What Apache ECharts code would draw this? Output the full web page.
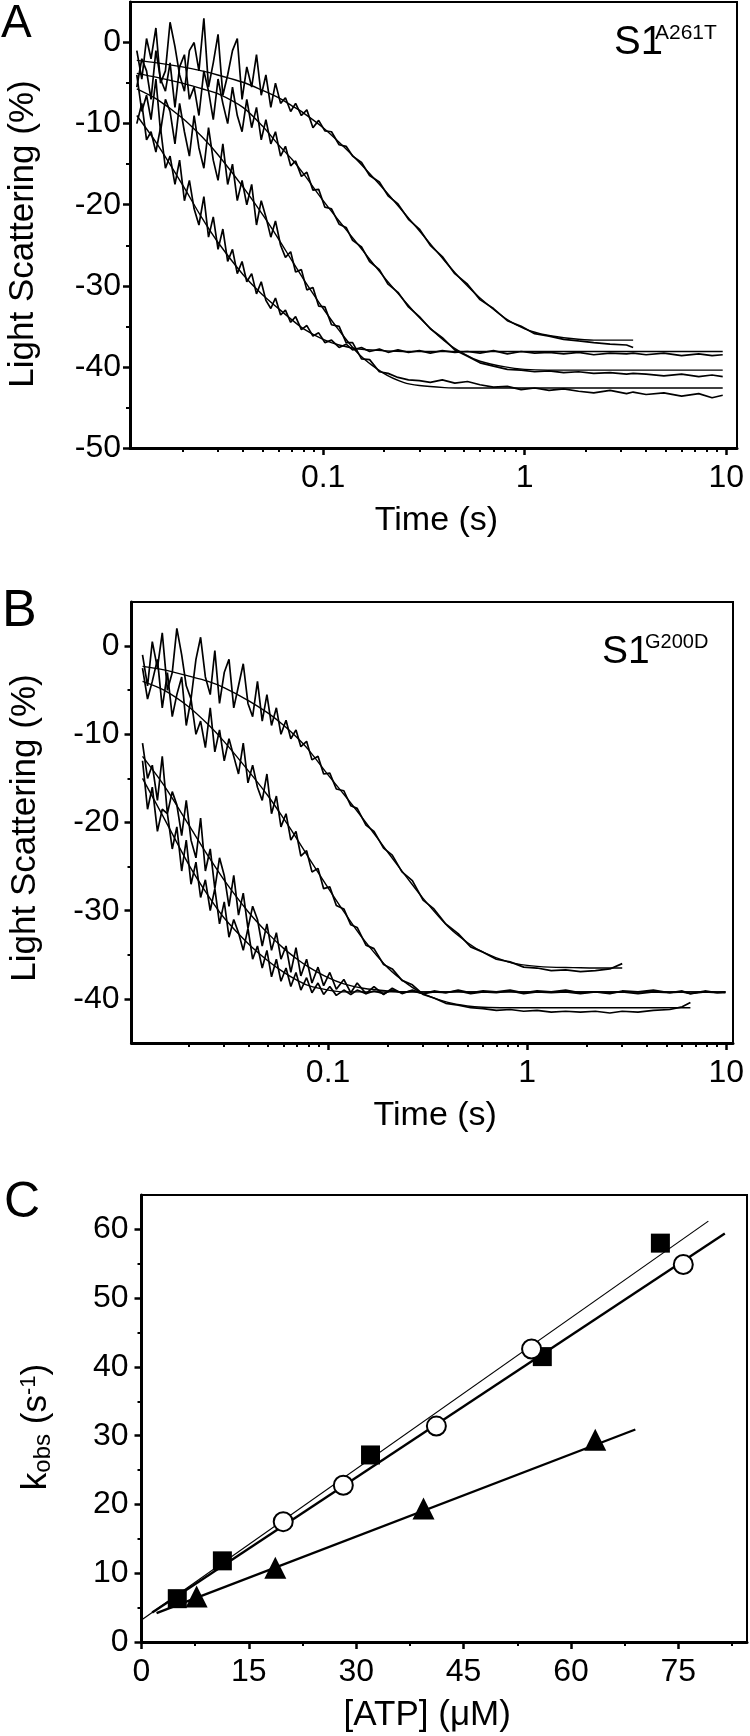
<!DOCTYPE html>
<html><head><meta charset="utf-8">
<script src="https://cdn.jsdelivr.net/npm/echarts@6/dist/echarts.min.js"></script>
<style>html,body{margin:0;padding:0;background:#fff}#c{width:750px;height:1736px}</style>
</head><body><div id="c"></div>
<script>
// ---------- Panel A (S1 A261T) ----------
const aTime = [0.0119,0.0126,0.0133,0.014,0.0148,0.0156,0.0165,0.0174,0.0184,0.0194,
 0.0205,0.0217,0.0229,0.0242,0.0256,0.027,0.0285,0.0301,0.0318,0.0336,
 0.0355,0.0375,0.0396,0.0418,0.0442,0.0467,0.0493,0.052,0.055,0.058,
 0.0615,0.065,0.069,0.073,0.078,0.083,0.089,0.095,0.102,0.11,
 0.12,0.13,0.14,0.155,0.17,0.19,0.21,0.235,0.265,0.3,
 0.34,0.39,0.45,0.52,0.6,0.7,0.82,0.96,1.12,1.32,
 1.56,1.85,2.2,2.65,3.2,3.45,4.0,4.9,6.0,7.3,
 8.5,9.6];
const aData1 = [-1.0,-4.5,0.5,-2.0,1.8,-5.0,-3.5,2.5,-0.5,-4.0,
 -6.0,-1.0,0.0,-3.5,3.0,-5.5,-2.5,1.0,-6.5,-4.0,
 -1.0,0.5,-7.0,-3.0,-5.5,-1.5,-6.5,-4.0,-8.0,-5.0,
 -7.5,-6.8,-8.5,-7.5,-9.0,-8.3,-10.5,-9.6,-10.9,-11.0,
 -12.6,-12.8,-14.0,-14.8,-16.4,-17.2,-18.9,-19.9,-21.8,-23.0,
 -25.0,-26.4,-28.5,-29.8,-31.7,-32.8,-34.3,-35.0,-35.9,-36.2,
 -36.6,-36.8,-37.0,-37.2,-37.3,-37.6];
const aData2 = [-5.5,-2.0,-3.5,-7.0,-1.0,-4.5,-6.0,-2.5,-8.0,-3.0,
 -1.5,-7.0,-5.5,-9.0,-3.5,-6.0,-9.5,-4.5,-7.5,-10.0,
 -5.5,-9.0,-11.0,-7.0,-10.5,-8.0,-12.0,-9.5,-12.5,-11.0,
 -14.0,-12.8,-15.2,-14.6,-16.5,-16.0,-18.2,-18.1,-20.3,-20.5,
 -22.4,-22.8,-24.4,-25.2,-27.0,-28.0,-29.8,-30.8,-32.6,-33.8,
 -35.3,-36.4,-37.9,-38.7,-39.5,-39.9,-40.3,-40.4,-40.6,-40.5,
 -40.7,-40.6,-40.8,-40.7,-40.9,-40.8,-40.9,-41.1,-40.9,-41.2,
 -41.0,-41.2];
const aData3 = [-4.0,-8.5,-6.5,-9.5,-4.5,-11.0,-7.0,-8.5,-12.5,-7.5,
 -11.0,-14.0,-9.0,-13.0,-15.5,-10.5,-14.5,-17.0,-12.5,-17.5,
 -15.0,-19.5,-17.0,-20.0,-17.5,-22.5,-19.5,-21.5,-24.0,-22.0,
 -25.0,-26.5,-25.8,-28.3,-28.0,-30.5,-30.2,-32.5,-32.6,-34.8,
 -35.0,-37.0,-37.0,-39.0,-39.1,-40.6,-40.8,-41.3,-41.6,-41.7,
 -41.9,-41.6,-42.0,-41.8,-42.2,-42.5,-42.4,-42.8,-42.6,-42.9,
 -42.7,-43.0,-43.2,-42.9,-43.3,-43.1,-43.4,-43.2,-43.6,-43.3,
 -43.8,-43.5];
const aData4 = [-10.0,-7.5,-12.0,-11.0,-13.5,-10.5,-15.5,-14.0,-17.5,-14.5,
 -19.5,-17.0,-20.5,-22.5,-19.0,-24.0,-21.5,-25.5,-23.0,-27.0,
 -25.5,-28.5,-27.0,-29.5,-28.5,-31.0,-29.5,-31.8,-32.8,-31.5,
 -33.6,-33.0,-34.5,-33.8,-35.4,-34.9,-36.2,-35.8,-37.0,-36.7,
 -37.6,-37.2,-37.9,-37.6,-38.1,-37.8,-38.2,-37.9,-38.2,-38.0,
 -38.3,-38.0,-38.2,-38.1,-38.3,-38.0,-38.4,-38.1,-38.3,-38.2,
 -38.4,-38.2,-38.5,-38.3,-38.4,-38.3,-38.5,-38.3,-38.6,-38.4,
 -38.6,-38.5];
const aFitTime = [0.0119,0.015,0.02,0.025,0.03,0.04,0.05,0.06,0.07,0.08,0.1,0.12,0.15,0.2,0.25,0.3,0.4,0.5,0.6,0.8,1.0,1.3,1.7,2.2,3.0,3.45,4.5,6.0,8.0,9.6];
const aFit1 = [-2.2,-2.5,-3.0,-3.5,-4.0,-4.9,-5.9,-6.8,-7.8,-8.7,-10.5,-12.3,-14.7,-18.1,-20.9,-23.2,-26.9,-29.6,-31.5,-34.0,-35.3,-36.1,-36.5,-36.7,-36.7,-36.7];
const aFit2 = [-3.8,-4.3,-5.0,-5.7,-6.3,-8.0,-10.3,-12.6,-14.4,-16.2,-19.5,-22.0,-25.0,-28.9,-31.7,-33.9,-36.8,-38.4,-39.3,-40.0,-40.3,-40.4,-40.4,-40.4,-40.4,-40.4,-40.4,-40.4,-40.4,-40.4];
const aFit3 = [-5.7,-7.0,-9.3,-11.6,-13.8,-17.8,-21.2,-24.2,-26.9,-29.2,-32.8,-35.5,-38.4,-40.8,-41.9,-42.3,-42.55,-42.6,-42.6,-42.6,-42.6,-42.6,-42.6,-42.6,-42.6,-42.6,-42.6,-42.6,-42.6,-42.6];
const aFit4 = [-9.0,-12.5,-17.5,-21.6,-24.6,-28.6,-31.1,-32.8,-34.2,-35.3,-36.6,-37.3,-37.8,-38.0,-38.1,-38.1,-38.1,-38.1,-38.1,-38.1,-38.1,-38.1,-38.1,-38.1,-38.1,-38.1,-38.1,-38.1,-38.1,-38.1];
const aYTicks = [-50,-40,-30,-20,-10,0];
const aYMinor = [-45,-35,-25,-15,-5];

// ---------- Panel B (S1 G200D) ----------
const bTime = [0.0117,0.0124,0.0131,0.0139,0.0147,0.0156,0.0165,0.0174,0.0184,0.0194,
 0.0205,0.0217,0.0229,0.0242,0.0256,0.027,0.0285,0.0301,0.0318,0.0336,
 0.0355,0.0375,0.0396,0.0418,0.0442,0.0467,0.0493,0.052,0.055,0.058,
 0.0615,0.065,0.069,0.073,0.078,0.083,0.089,0.095,0.102,0.11,
 0.12,0.13,0.14,0.155,0.17,0.19,0.21,0.235,0.265,0.3,
 0.34,0.39,0.45,0.52,0.6,0.7,0.82,0.96,1.12,1.32,
 1.56,1.85,2.2,2.6,3.0,3.6,4.3,5.2,6.0,6.6,
 7.8,9.0,9.9];
const bData1 = [-1.0,-4.5,0.5,-2.5,1.5,-5.0,-3.0,2.0,-1.0,-4.5,
 -6.0,-1.5,1.0,-3.5,-5.5,-0.5,-6.5,-3.0,-1.5,-7.0,
 -4.5,-2.0,-6.5,-8.0,-4.0,-8.5,-5.5,-9.0,-7.0,-10.0,
 -8.4,-10.5,-9.5,-11.4,-10.8,-12.9,-12.5,-14.5,-14.4,-16.2,
 -16.4,-18.1,-18.4,-20.3,-21.0,-22.9,-23.7,-25.6,-26.6,-28.8,
 -29.8,-31.5,-32.6,-34.1,-34.7,-35.5,-35.8,-36.4,-36.5,-36.8,
 -36.7,-36.9,-36.8,-36.6,-36.0];
const bData2 = [-2.5,-6.0,-4.0,-1.5,-7.0,-3.0,-8.0,-5.5,-3.5,-9.0,
 -6.0,-10.0,-8.5,-11.5,-7.0,-12.0,-9.5,-13.0,-10.5,-12.5,
 -14.5,-11.0,-15.5,-13.5,-16.0,-17.5,-14.5,-19.0,-17.0,-20.5,
 -19.0,-22.0,-21.0,-23.8,-23.2,-25.6,-25.2,-27.5,-27.3,-29.4,
 -29.8,-31.6,-31.9,-33.9,-34.3,-36.1,-36.6,-37.9,-38.4,-39.5,
 -39.9,-40.5,-40.7,-41.0,-41.1,-41.3,-41.2,-41.4,-41.3,-41.5,
 -41.4,-41.5,-41.4,-41.6,-41.4,-41.5,-41.3,-41.2,-40.9,-40.4];
const bData3 = [-11.0,-15.0,-13.5,-17.5,-12.5,-19.0,-16.5,-18.0,-21.5,-17.5,
 -22.0,-24.0,-19.5,-25.5,-23.0,-27.5,-24.0,-26.0,-29.5,-26.0,
 -30.5,-28.0,-32.0,-29.5,-31.0,-34.0,-31.5,-34.5,-32.5,-35.5,
 -34.0,-37.0,-34.2,-37.4,-35.5,-38.2,-36.4,-38.5,-37.0,-38.9,
 -37.8,-39.3,-38.2,-39.4,-38.6,-39.5,-38.8,-39.4,-39.0,-39.4,
 -39.1,-39.3,-39.1,-39.4,-39.2,-39.3,-39.1,-39.4,-39.2,-39.3,
 -39.2,-39.4,-39.2,-39.3,-39.2,-39.4,-39.2,-39.3,-39.1,-39.4,
 -39.2,-39.3,-39.3];
const bData4 = [-13.0,-18.5,-16.0,-21.0,-18.5,-19.0,-23.0,-20.5,-25.5,-22.0,
 -27.0,-24.5,-28.5,-26.5,-30.0,-27.5,-31.5,-29.0,-33.0,-31.0,
 -32.5,-34.5,-32.0,-35.5,-34.0,-36.5,-34.5,-37.5,-35.5,-38.0,
 -36.5,-38.6,-37.0,-39.0,-37.6,-39.3,-38.2,-39.5,-38.6,-39.6,
 -39.0,-39.5,-39.0,-39.4,-39.1,-39.4,-39.0,-39.3,-39.1,-39.4,
 -39.2,-39.3,-39.0,-39.3,-39.1,-39.2,-39.0,-39.3,-39.1,-39.2,
 -39.0,-39.3,-39.2,-39.4,-39.1,-39.2,-39.0,-39.3,-39.2,-39.4,
 -39.1,-39.3,-39.2];
const bFitTime = [0.0117,0.015,0.02,0.025,0.03,0.04,0.05,0.06,0.07,0.08,0.1,0.12,0.15,0.2,0.25,0.3,0.4,0.5,0.6,0.8,1.0,1.3,1.7,2.2,3.0,4.0,5.0,6.6,8.0,9.9];
const bFit1 = [-2.3,-2.7,-3.4,-4.0,-4.7,-6.2,-7.6,-9.0,-10.4,-11.8,-14.6,-16.8,-19.6,-23.4,-26.3,-28.6,-31.8,-33.6,-34.7,-35.8,-36.2,-36.4,-36.45,-36.5,-36.5];
const bFit2 = [-4.0,-5.0,-6.9,-8.9,-10.8,-14.2,-17.0,-19.6,-21.9,-24.0,-27.4,-30.1,-33.2,-36.5,-38.3,-39.4,-40.4,-40.8,-40.95,-41.0,-41.0,-41.0,-41.0,-41.0,-41.0,-41.0,-41.0,-41.0];
const bFit3 = [-12.5,-15.8,-20.3,-23.8,-26.5,-30.2,-32.6,-34.3,-35.5,-36.4,-37.6,-38.3,-38.8,-39.1,-39.2,-39.2,-39.2,-39.2,-39.2,-39.2,-39.2,-39.2,-39.2,-39.2,-39.2,-39.2,-39.2,-39.2,-39.2,-39.2];
const bFit4 = [-15.0,-19.5,-24.8,-28.3,-30.8,-33.8,-35.7,-37.0,-37.9,-38.5,-39.0,-39.2,-39.2,-39.2,-39.2,-39.2,-39.2,-39.2,-39.2,-39.2,-39.2,-39.2,-39.2,-39.2,-39.2,-39.2,-39.2,-39.2,-39.2,-39.2];
const bYTicks = [-40,-30,-20,-10,0];
const bYMinor = [-35,-25,-15,-5];

// shared log time ticks
const logMajor = [0.1, 1, 10];
const logMinor = [0.02,0.03,0.04,0.05,0.06,0.07,0.08,0.09,0.2,0.3,0.4,0.5,0.6,0.7,0.8,0.9,2,3,4,5,6,7,8,9];

// ---------- Panel C (kobs vs [ATP]) ----------
const cSqX = [5, 11.3, 32, 56, 72.5];
const cSqY = [6.3, 11.8, 27.2, 41.5, 58];
const cCircX = [19.8, 28.2, 41.2, 54.5, 75.7];
const cCircY = [17.5, 22.8, 31.4, 42.6, 54.9];
const cTriX = [7.7, 18.7, 39.4, 63.4];
const cTriY = [6.6, 10.8, 19.4, 29.4];
const cSqFitX = [0, 79.2];
const cSqFitY = [3.2, 61.2];
const cCircFitX = [1.5, 81.5];
const cCircFitY = [4.3, 59.4];
const cTriFitX = [2.1, 69];
const cTriFitY = [4.2, 30.9];
const cXTicks = [0, 15, 30, 45, 60, 75];
const cXMinor = [7.5, 22.5, 37.5, 52.5, 67.5, 82.5];
const cYTicks = [0, 10, 20, 30, 40, 50, 60];
const cYMinor = [5, 15, 25, 35, 45, 55];

const FONT = 'Arial, "Liberation Sans", Helvetica, sans-serif';
const BLK = '#000';

function pairs(xs, ys) { return ys.map((y, i) => [xs[i], y]); }
function lineG(ai, xs, ys, w, smooth) {
  return { type: 'line', xAxisIndex: ai, yAxisIndex: ai, data: pairs(xs, ys), symbol: 'none',
    showSymbol: false, smooth: smooth || false, lineStyle: { color: BLK, width: w }, silent: true, animation: false, z: 2 };
}
function scatter(xs, ys, symbol, size, fill, bw) {
  return { type: 'scatter', xAxisIndex: 4, yAxisIndex: 4, data: pairs(xs, ys), symbol: symbol, symbolSize: size,
    itemStyle: { color: fill, borderColor: BLK, borderWidth: bw, opacity: 1 }, silent: true, animation: false, z: 5 };
}
const lblStyle = (m, extra) => Object.assign({ color: BLK, fontSize: 32, fontFamily: FONT, margin: m }, extra || {});
const tickMain = (vals) => ({ show: true, inside: false, length: 7, customValues: vals, lineStyle: { color: BLK, width: 2.5 } });
const tickMinor = (vals) => ({ show: true, inside: false, length: 4, customValues: vals, lineStyle: { color: BLK, width: 2 } });
const axLine = { show: true, onZero: false, lineStyle: { color: BLK, width: 3 } };
const noLine = { show: false, onZero: false };
const logFmt = v => (v >= 1 ? String(Math.round(v)) : String(v));

function xLog(g, min, max, gap, pad) {
  const main = { gridIndex: g, type: 'log', position: 'bottom', min: min, max: max, axisLine: axLine,
    axisTick: tickMain(logMajor), axisLabel: lblStyle(14, { customValues: logMajor, formatter: logFmt }),
    splitLine: { show: false }, minorTick: { show: false },
    name: 'Time (s)', nameLocation: 'middle', nameGap: gap,
    nameTextStyle: { color: BLK, fontSize: 34, fontFamily: FONT, padding: pad } };
  const minor = { gridIndex: g, type: 'log', position: 'bottom', min: min, max: max, axisLine: noLine,
    axisTick: tickMinor(logMinor), axisLabel: { show: false }, splitLine: { show: false } };
  return [main, minor];
}
function yVal(g, min, max, ticks, minors, name, gap, pad, margin, nameStyle) {
  const main = { gridIndex: g, type: 'value', position: 'left', min: min, max: max, axisLine: axLine,
    axisTick: tickMain(ticks), axisLabel: lblStyle(margin, { customValues: ticks }),
    splitLine: { show: false },
    name: name, nameLocation: 'middle', nameGap: gap,
    nameTextStyle: Object.assign({ color: BLK, fontSize: 35, fontFamily: FONT, padding: pad }, nameStyle || {}) };
  const minor = { gridIndex: g, type: 'value', position: 'left', min: min, max: max, axisLine: noLine,
    axisTick: tickMinor(minors), axisLabel: { show: false }, splitLine: { show: false } };
  return [main, minor];
}

const gridBase = { show: true, borderColor: BLK, borderWidth: 2, backgroundColor: 'transparent', containLabel: false, outerBoundsMode: 'none' };

const xAxes = [].concat(
  xLog(0, 0.01101, 11.3, 56, [0, 0, 0, 6]),
  xLog(1, 0.0103, 10.8, 56, [0, 0, 0, 6]),
  [
    { gridIndex: 2, type: 'value', position: 'bottom', min: 0, max: 84.6, axisLine: axLine,
      axisTick: tickMain(cXTicks), axisLabel: lblStyle(14, { customValues: cXTicks }), splitLine: { show: false },
      name: '[ATP] (μM)', nameLocation: 'middle', nameGap: 56,
      nameTextStyle: { color: BLK, fontSize: 35, fontFamily: FONT, padding: [0, 34, 0, 0] } },
    { gridIndex: 2, type: 'value', position: 'bottom', min: 0, max: 84.6, axisLine: noLine,
      axisTick: tickMinor(cXMinor), axisLabel: { show: false }, splitLine: { show: false } }
  ]
);
const yAxes = [].concat(
  yVal(0, -50, 5, aYTicks, aYMinor, 'Light Scattering (%)', 89, [0, 18, 0, 0], 9),
  yVal(1, -45, 5, bYTicks, bYMinor, 'Light Scattering (%)', 89, [0, 11, 0, 0], 12),
  yVal(2, 0, 65, cYTicks, cYMinor, '{n|k}{sub|obs}{n| (s}{sup|-1}{n|)}', 86, [0, 17, 0, 0], 13, {
    rich: {
      n: { fontSize: 35, fontFamily: FONT, color: BLK, lineHeight: 38 },
      sub: { fontSize: 24, fontFamily: FONT, color: BLK, verticalAlign: 'bottom', lineHeight: 16 },
      sup: { fontSize: 22, fontFamily: FONT, color: BLK, verticalAlign: 'top', lineHeight: 16 }
    }
  })
);

const DW = 1.7, FW = 1.4;
const series = [
  lineG(0, aFitTime, aFit1, FW, 0.3), lineG(0, aFitTime, aFit2, FW, 0.3),
  lineG(0, aFitTime, aFit3, FW, 0.3), lineG(0, aFitTime, aFit4, FW, 0.3),
  lineG(0, aTime, aData1, DW), lineG(0, aTime, aData2, DW),
  lineG(0, aTime, aData3, DW), lineG(0, aTime, aData4, DW),
  lineG(2, bFitTime, bFit1, FW, 0.3), lineG(2, bFitTime, bFit2, FW, 0.3),
  lineG(2, bFitTime, bFit3, FW, 0.3), lineG(2, bFitTime, bFit4, FW, 0.3),
  lineG(2, bTime, bData1, DW), lineG(2, bTime, bData2, DW),
  lineG(2, bTime, bData3, DW), lineG(2, bTime, bData4, DW),
  lineG(4, cSqFitX, cSqFitY, 1.2), lineG(4, cCircFitX, cCircFitY, 2.4), lineG(4, cTriFitX, cTriFitY, 2.4),
  scatter(cSqX, cSqY, 'rect', 19, BLK, 0),
  scatter(cCircX, cCircY, 'circle', 19, '#fff', 2),
  scatter(cTriX, cTriY, 'triangle', 22, BLK, 0)
];

function txt(x, y, s, size) {
  return { type: 'text', x: x, y: y, silent: true,
    style: { text: s, fill: BLK, fontSize: size, fontFamily: FONT, align: 'left', verticalAlign: 'middle',
      textAlign: 'left', textVerticalAlign: 'middle' } };
}

const chart = echarts.init(document.getElementById('c'), null, { renderer: 'canvas' });
chart.setOption({
  animation: false,
  backgroundColor: '#fff',
  grid: [
    Object.assign({ left: 130, top: 2, width: 607, height: 446 }, gridBase),
    Object.assign({ left: 131.5, top: 602, width: 601.5, height: 441 }, gridBase),
    Object.assign({ left: 141.5, top: 1195, width: 605.5, height: 447 }, gridBase)
  ],
  xAxis: xAxes,
  yAxis: yAxes,
  series: series,
  graphic: [
    txt(1, 24, 'A', 46),
    txt(2, 612, 'B', 52),
    txt(4, 1203, 'C', 50),
    txt(614, 43, 'S1', 40), txt(655, 33, 'A261T', 21),
    txt(602, 652, 'S1', 39), txt(645, 642, 'G200D', 20)
  ]
});
</script></body></html>
